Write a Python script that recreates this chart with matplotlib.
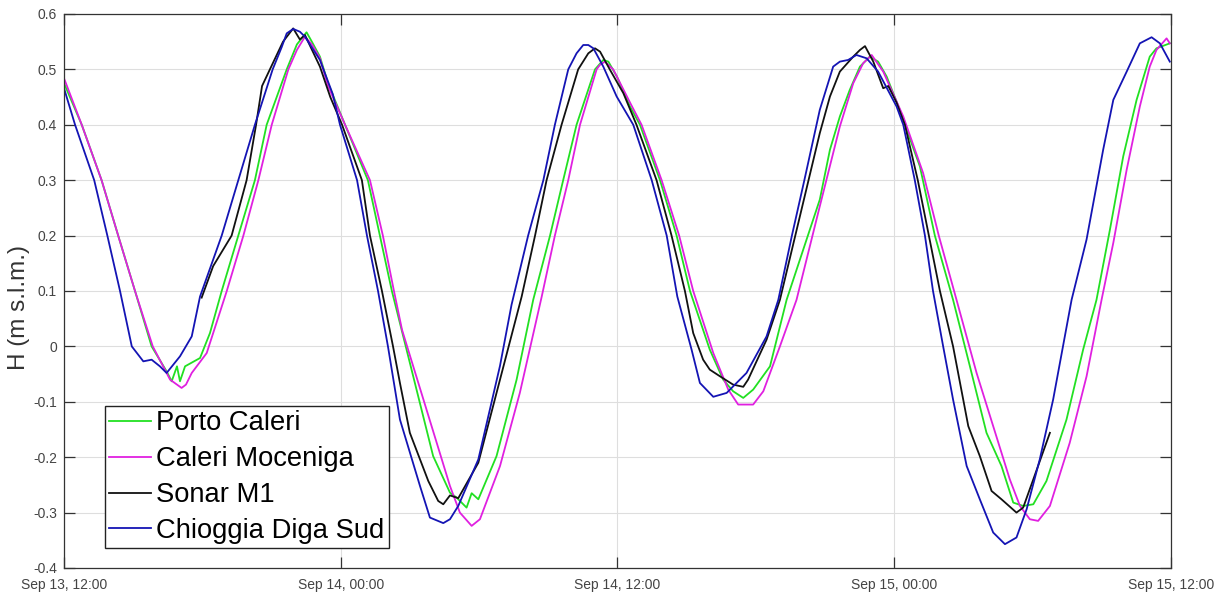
import datetime as dt
import matplotlib
matplotlib.use("Agg")
import matplotlib.pyplot as plt
import matplotlib.dates as mdates
from matplotlib.ticker import FixedLocator, FuncFormatter

# Sea level (m s.l.m.) at four stations, time in hours after Sep 13, 12:00
porto_caleri_h = [0.00, 0.77, 1.63, 2.35, 3.08, 3.80, 4.45, 4.67, 4.90, 5.03, 5.25, 5.90, 6.33, 6.84,
                  7.56, 8.28, 8.79, 9.66, 10.10, 10.52, 10.75, 11.10, 11.45, 12.19, 13.18, 13.70,
                  14.22, 14.57, 16.01, 16.74, 17.03, 17.46, 17.68, 17.97, 18.76, 19.63, 20.35,
                  21.08, 21.65, 22.23, 23.03, 23.39, 23.61, 23.98, 24.55, 24.98, 25.85, 26.57,
                  27.15, 28.01, 28.59, 29.02, 29.46, 29.89, 30.62, 31.34, 32.78, 33.22, 33.65,
                  34.08, 34.52, 34.95, 35.31, 35.68, 36.25, 36.47, 37.12, 37.77, 38.56, 39.29,
                  40.01, 40.66, 41.17, 41.60, 42.04, 42.61, 43.48, 44.20, 44.78, 45.36, 45.94,
                  46.52, 47.09, 47.38, 47.96]
porto_caleri_v = [0.475, 0.40, 0.30, 0.20, 0.10, 0.00, -0.045, -0.063, -0.036, -0.063, -0.036, -0.021,
                  0.024, 0.10, 0.20, 0.30, 0.40, 0.50, 0.545, 0.567, 0.55, 0.523, 0.475, 0.40,
                  0.30, 0.20, 0.10, 0.042, -0.198, -0.264, -0.273, -0.291, -0.265, -0.276, -0.198,
                  -0.06, 0.084, 0.20, 0.30, 0.40, 0.50, 0.517, 0.514, 0.487, 0.433, 0.40, 0.30,
                  0.20, 0.10, -0.006, -0.06, -0.081, -0.093, -0.078, -0.036, 0.084, 0.265, 0.355,
                  0.415, 0.463, 0.505, 0.523, 0.514, 0.487, 0.427, 0.40, 0.325, 0.20, 0.084,
                  -0.036, -0.156, -0.216, -0.282, -0.288, -0.285, -0.243, -0.132, -0.006, 0.084,
                  0.21, 0.343, 0.445, 0.523, 0.538, 0.547]

caleri_moceniga_h = [0.00, 0.77, 1.63, 2.35, 3.08, 3.85, 4.60, 5.10, 5.29, 5.54, 6.19, 7.06, 7.78,
                     8.43, 9.01, 9.73, 10.10, 10.45, 10.75, 11.10, 11.45, 12.19, 13.27, 13.83, 14.31,
                     14.66, 16.74, 17.17, 17.68, 18.04, 18.91, 19.77, 20.72, 21.29, 21.87, 22.38,
                     23.10, 23.24, 23.46, 23.82, 24.55, 25.05, 25.92, 26.68, 27.29, 28.16, 28.81,
                     29.24, 29.89, 30.33, 31.05, 31.77, 32.78, 33.65, 34.23, 34.66, 35.03, 35.53,
                     36.40, 37.26, 37.94, 38.71, 39.58, 40.30, 41.02, 41.46, 41.89, 42.25, 42.76,
                     43.62, 44.35, 45.00, 45.51, 46.09, 46.66, 47.09, 47.38, 47.82, 47.96]
caleri_moceniga_v = [0.484, 0.40, 0.30, 0.20, 0.10, 0.00, -0.06, -0.075, -0.069, -0.048, -0.012,
                     0.10, 0.20, 0.30, 0.40, 0.50, 0.535, 0.559, 0.545, 0.52, 0.47, 0.40, 0.30,
                     0.20, 0.10, 0.03, -0.252, -0.30, -0.324, -0.312, -0.216, -0.084, 0.09, 0.20,
                     0.30, 0.40, 0.50, 0.508, 0.514, 0.50, 0.44, 0.40, 0.30, 0.20, 0.10, -0.012,
                     -0.078, -0.105, -0.105, -0.081, 0.00, 0.084, 0.253, 0.397, 0.475, 0.511, 0.526,
                     0.496, 0.415, 0.313, 0.20, 0.084, -0.048, -0.144, -0.24, -0.288, -0.312, -0.315,
                     -0.288, -0.174, -0.054, 0.084, 0.187, 0.319, 0.433, 0.505, 0.535, 0.556, 0.547]

sonar_m1_h = [5.97, 6.47, 7.27, 7.92, 8.33, 8.59, 8.93, 9.50, 9.94, 10.23, 10.45, 11.10, 11.55,
              12.06, 12.92, 13.27, 13.79, 14.27, 14.57, 15.00, 15.80, 16.23, 16.45, 16.74, 17.10,
              17.97, 18.91, 19.85, 20.43, 20.93, 21.58, 22.30, 22.74, 23.03, 23.25, 23.67, 24.26,
              24.83, 25.70, 26.35, 26.93, 27.29, 27.72, 28.01, 28.45, 29.02, 29.46, 29.67, 30.47,
              31.05, 32.78, 33.22, 33.65, 34.23, 34.52, 34.74, 35.10, 35.53, 35.75, 36.11, 36.47,
              37.03, 37.51, 37.99, 38.56, 39.22, 39.72, 40.23, 40.66, 41.31, 41.60, 42.04, 42.76]
sonar_m1_v = [0.088, 0.145, 0.20, 0.30, 0.40, 0.47, 0.50, 0.55, 0.574, 0.554, 0.562, 0.505, 0.45,
              0.40, 0.30, 0.20, 0.10, 0.00, -0.066, -0.156, -0.243, -0.279, -0.285, -0.269,
              -0.274, -0.21, -0.06, 0.09, 0.20, 0.30, 0.40, 0.50, 0.529, 0.538, 0.532, 0.50,
              0.457, 0.40, 0.30, 0.20, 0.10, 0.024, -0.024, -0.042, -0.054, -0.069, -0.073,
              -0.06, 0.012, 0.084, 0.385, 0.451, 0.496, 0.523, 0.535, 0.542, 0.514, 0.466, 0.47,
              0.44, 0.40, 0.30, 0.20, 0.10, 0.00, -0.144, -0.198, -0.261, -0.276, -0.30, -0.291,
              -0.24, -0.156]

chioggia_h = [0.00, 0.48, 1.31, 1.88, 2.43, 2.94, 3.44, 3.80, 4.16, 4.45, 5.03, 5.54, 5.90, 6.84,
              7.56, 8.28, 9.05, 9.44, 9.66, 9.94, 10.23, 10.45, 11.10, 11.66, 11.97, 12.71, 13.14,
              13.62, 14.05, 14.57, 15.44, 15.87, 16.45, 16.74, 17.10, 17.97, 18.91, 19.41, 20.13,
              20.79, 21.29, 21.87, 22.23, 22.52, 22.74, 22.96, 23.39, 23.97, 24.69, 25.49, 26.14,
              26.60, 27.22, 27.58, 28.16, 28.74, 29.60, 30.47, 30.98, 31.57, 32.11, 32.78, 33.36,
              33.65, 34.01, 34.37, 34.81, 35.31, 36.11, 36.40, 36.90, 37.34, 37.69, 38.13, 38.56,
              39.15, 39.72, 40.30, 40.81, 41.31, 41.75, 42.32, 42.90, 43.70, 44.35, 45.07, 45.51,
              46.09, 46.66, 47.17, 47.53, 47.96]
chioggia_v = [0.466, 0.40, 0.30, 0.20, 0.10, 0.00, -0.027, -0.024, -0.036, -0.048, -0.018, 0.018,
              0.09, 0.20, 0.30, 0.40, 0.50, 0.54, 0.565, 0.573, 0.568, 0.559, 0.517, 0.455, 0.40,
              0.30, 0.20, 0.10, 0.00, -0.132, -0.252, -0.309, -0.319, -0.312, -0.288, -0.204,
              -0.035, 0.075, 0.20, 0.30, 0.40, 0.50, 0.529, 0.544, 0.544, 0.538, 0.505, 0.451,
              0.40, 0.30, 0.20, 0.09, -0.006, -0.066, -0.091, -0.084, -0.048, 0.018, 0.084, 0.20,
              0.30, 0.427, 0.505, 0.514, 0.517, 0.526, 0.52, 0.496, 0.433, 0.40, 0.30, 0.20,
              0.10, 0.00, -0.096, -0.216, -0.276, -0.336, -0.357, -0.345, -0.294, -0.204, -0.096,
              0.084, 0.193, 0.355, 0.445, 0.496, 0.547, 0.558, 0.547, 0.514]

series_labels = ["Porto Caleri", "Caleri Moceniga", "Sonar M1", "Chioggia Diga Sud"]
series_colors = ["#22e022", "#e020e0", "#111111", "#1414b4"]

t0 = dt.datetime(2019, 9, 13, 12, 0)
x_ticks = [t0 + dt.timedelta(hours=12 * k) for k in range(5)]
y_ticks = [-0.4, -0.3, -0.2, -0.1, 0.0, 0.1, 0.2, 0.3, 0.4, 0.5, 0.6]


def to_times(hours):
    return [t0 + dt.timedelta(hours=h) for h in hours]


plt.rcParams["font.family"] = ["Liberation Sans", "DejaVu Sans"]
plt.rcParams["axes.unicode_minus"] = False

fig = plt.figure(figsize=(12.19, 5.95), dpi=100)
ax = fig.add_axes([0.0525, 0.0454, 0.9079, 0.9311])

data = [(porto_caleri_h, porto_caleri_v), (caleri_moceniga_h, caleri_moceniga_v),
        (sonar_m1_h, sonar_m1_v), (chioggia_h, chioggia_v)]
for (hh, vv), lab, col in zip(data, series_labels, series_colors):
    ax.plot(to_times(hh), vv, color=col, lw=1.3, label=lab)

ax.set_xlim(x_ticks[0], x_ticks[-1])
ax.set_ylim(-0.4, 0.6)
ax.xaxis.set_major_locator(FixedLocator(mdates.date2num(x_ticks)))
ax.xaxis.set_major_formatter(mdates.DateFormatter("%b %d, %H:%M"))
ax.yaxis.set_major_locator(FixedLocator(y_ticks))
ax.yaxis.set_major_formatter(FuncFormatter(lambda v, p: f"{round(v, 1):g}"))

ax.grid(True, color="#dedede", lw=0.8)
ax.set_axisbelow(True)
for s in ax.spines.values():
    s.set_color("#333333")
    s.set_linewidth(0.9)
ax.tick_params(direction="in", top=True, right=True, length=8, width=0.9,
               color="#333333", labelcolor="#444444", labelsize=10)
ax.tick_params(axis="x", pad=7)
ax.tick_params(axis="y", pad=5)
ax.set_ylabel("H (m s.l.m.)", fontsize=17.5, color="#333333")
ax.yaxis.set_label_coords(-0.031, 0.47)

leg = ax.legend(loc="lower left", bbox_to_anchor=(0.037, 0.036), borderaxespad=0,
                fontsize=19.7, frameon=True, fancybox=False, framealpha=1,
                edgecolor="#222222", handlelength=1.55, handletextpad=0.18,
                labelspacing=0.36, borderpad=0.15)
leg.get_frame().set_linewidth(1.0)

fig.savefig("out.png", dpi=100)
